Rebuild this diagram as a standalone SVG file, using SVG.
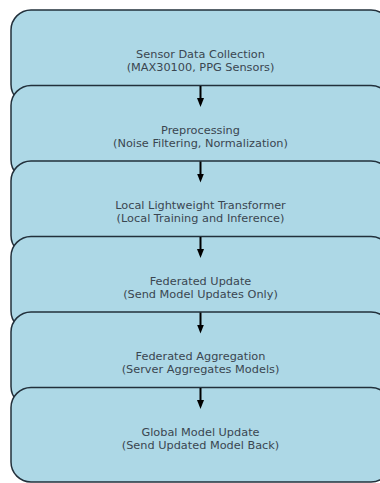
<svg xmlns="http://www.w3.org/2000/svg" width="380" height="483" viewBox="0 0 380 483">
<defs>
<style>
.box{fill:#add8e6;stroke:#22303b;stroke-width:1.5}
.t{font-family:"DejaVu Sans",sans-serif;font-size:11.3px;fill:#3a4650;text-anchor:middle}
.arr{stroke:#000;stroke-width:2;fill:none;marker-end:url(#ah)}
</style>
<marker id="ah" markerWidth="9" markerHeight="7" refX="2" refY="3.5" orient="auto" markerUnits="userSpaceOnUse">
<path d="M0,0 L9,3.5 L0,7 Z" fill="#000"/>
</marker>
</defs>
<rect width="380" height="483" fill="#fff"/>
<g id="n1"><rect class="box" x="11" y="10" width="380" height="94.5" rx="20"/>
<text class="t" x="200.5" y="58">Sensor Data Collection</text><text class="t" x="200.5" y="71">(MAX30100, PPG Sensors)</text></g>
<g id="n2"><rect class="box" x="11" y="85.5" width="380" height="94.5" rx="20"/>
<text class="t" x="200.5" y="133.5">Preprocessing</text><text class="t" x="200.5" y="146.5">(Noise Filtering, Normalization)</text></g>
<g id="n3"><rect class="box" x="11" y="161" width="380" height="94.5" rx="20"/>
<text class="t" x="200.5" y="209">Local Lightweight Transformer</text><text class="t" x="200.5" y="222">(Local Training and Inference)</text></g>
<g id="n4"><rect class="box" x="11" y="236.5" width="380" height="94.5" rx="20"/>
<text class="t" x="200.5" y="284.5">Federated Update</text><text class="t" x="200.5" y="297.5">(Send Model Updates Only)</text></g>
<g id="n5"><rect class="box" x="11" y="312" width="380" height="94.5" rx="20"/>
<text class="t" x="200.5" y="360">Federated Aggregation</text><text class="t" x="200.5" y="373">(Server Aggregates Models)</text></g>
<g id="n6"><rect class="box" x="11" y="387.5" width="380" height="94.5" rx="20"/>
<text class="t" x="200.5" y="435.5">Global Model Update</text><text class="t" x="200.5" y="448.5">(Send Updated Model Back)</text></g>
<g id="connectors">
<line class="arr" x1="200.5" y1="86" x2="200.5" y2="100"/>
<line class="arr" x1="200.5" y1="161.5" x2="200.5" y2="175.5"/>
<line class="arr" x1="200.5" y1="237" x2="200.5" y2="251"/>
<line class="arr" x1="200.5" y1="312.5" x2="200.5" y2="326.5"/>
<line class="arr" x1="200.5" y1="388" x2="200.5" y2="402"/>
</g>
</svg>
